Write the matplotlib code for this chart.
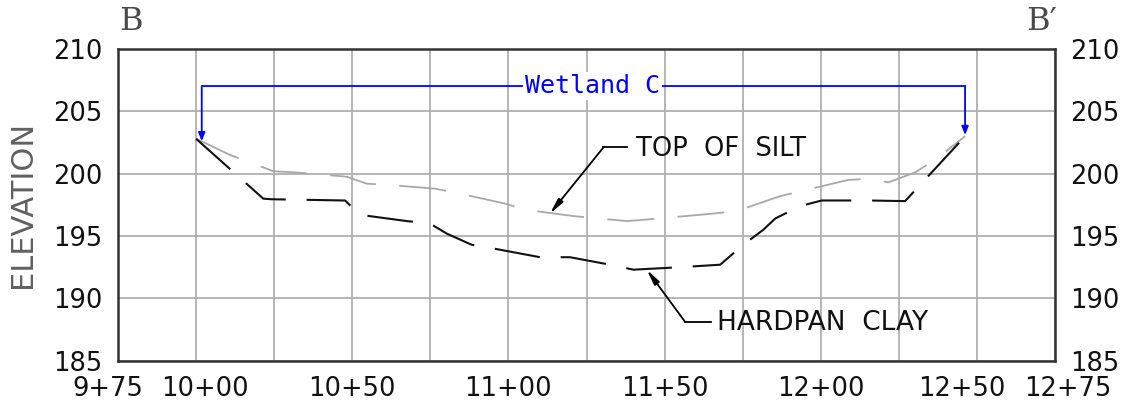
import matplotlib.pyplot as plt
import matplotlib.transforms as mtransforms

hardpan_sta = [1000, 1021.5, 1024, 1047.7, 1052.5, 1067.4, 1074.9, 1080.2, 1088.2, 1095.2, 1110.1,
               1119.7, 1132.5, 1140, 1155, 1167.8, 1175.2, 1181.6, 1185.4, 1193.4, 1200.3,
               1215.2, 1227.0, 1234.4, 1246.2]
hardpan_elev = [202.8, 198.0, 197.95, 197.85, 196.7, 196.2, 196.0, 195.2, 194.3, 194.0, 193.3,
                193.3, 192.7, 192.3, 192.5, 192.7, 194.3, 195.5, 196.4, 197.4, 197.85,
                197.85, 197.8, 199.8, 203.0]

silt_sta = [1000, 1010.9, 1024.7, 1031.7, 1048.2, 1054.6, 1061.5, 1076.5, 1084.5, 1098.9, 1105.8,
            1120.8, 1137.9, 1143.2, 1165.6, 1173.1, 1187.0, 1208.8, 1216.3, 1221.6, 1230.2,
            1237.1, 1246.2]
silt_elev = [202.8, 201.5, 200.2, 200.1, 199.76, 199.2, 199.1, 198.8, 198.4, 197.6, 197.1,
             196.6, 196.2, 196.3, 196.8, 197.0, 198.2, 199.5, 199.6, 199.3, 200.1,
             201.2, 203.0]

wetland_start, wetland_end = 1001.8, 1246.2
wetland_top = 207.0
wetland_ends_elev = [202.6, 203.1]

xtick_pos = [975, 1000, 1050, 1100, 1150, 1200, 1250, 1275]
xtick_lbl = ["9+75", "10+00", "10+50", "11+00", "11+50", "12+00", "12+50", "12+75"]
ytick_pos = [185, 190, 195, 200, 205, 210]

plt.rcParams['font.family'] = ['DejaVu Sans']

fig = plt.figure(figsize=(11.25, 4.01), dpi=100)
ax = fig.add_axes([0.1049, 0.1005, 0.8329, 0.7773])

ax.set_xlim(975, 1275)
ax.set_ylim(185, 210)

# grid every 25 ft / 5 ft
ax.set_xticks(xtick_pos)
ax.set_xticklabels(xtick_lbl)
ax.set_xticks([1025, 1075, 1125, 1175, 1225], minor=True)
ax.set_yticks(ytick_pos)
ax.set_yticks([185], minor=True)
ax.grid(True, which='both', color='#b0b0b0', linewidth=1.3)
ax.set_axisbelow(True)
ax.tick_params(which='major', length=0, labelsize=18.5, colors='#111111')
ax.tick_params(axis='x', pad=11)
ax.tick_params(axis='y', pad=11, labelright=True, right=False)
ax.tick_params(axis='x', which='minor', length=0)
ax.tick_params(axis='y', which='minor', length=11, width=1.2, left=True, right=True, color='#333333')
for sp in ax.spines.values():
    sp.set_color('#333333')
    sp.set_linewidth(1.8)

# nudge the crowded end labels like the drawing does
shifts = {0: -10, 1: 9, 6: -15, 7: 13}
for i, lab in enumerate(ax.get_xticklabels()):
    if i in shifts:
        lab.set_transform(lab.get_transform() + mtransforms.ScaledTranslation(shifts[i] / 100, 0, fig.dpi_scale_trans))

# profiles
ax.plot(silt_sta, silt_elev, color='#a8a8a8', linewidth=1.3, dashes=(26, 13), dash_capstyle='butt')
ax.plot(hardpan_sta, hardpan_elev, color='#111111', linewidth=1.5, dashes=(22, 10), dash_capstyle='butt')

# wetland bracket
ax.plot([wetland_start, wetland_end], [wetland_top, wetland_top], color='#0000ff', linewidth=1.3)
for xs, ye in zip([wetland_start, wetland_end], wetland_ends_elev):
    ax.annotate('', xy=(xs, ye), xytext=(xs, wetland_top),
                arrowprops=dict(arrowstyle='-|>,head_length=0.5,head_width=0.2', color='#0000ff', lw=1.3,
                                shrinkA=0, shrinkB=0))
ax.text((wetland_start + wetland_end) / 2 + 3, wetland_top, "Wetland C", color='#0000ff',
        family='DejaVu Sans Mono', fontsize=18, ha='center', va='center',
        bbox=dict(facecolor='white', edgecolor='none', pad=1.5))

# leaders
ax.annotate('', xy=(1113.3, 196.8), xytext=(1130.4, 202.1),
            arrowprops=dict(arrowstyle='-|>,head_length=0.9,head_width=0.18', color='black', lw=1.3,
                            shrinkA=0, shrinkB=0))
ax.plot([1130.4, 1138], [202.1, 202.1], color='black', linewidth=1.3)
ax.text(1141, 202.0, "TOP  OF  SILT", fontsize=18.5, ha='left', va='center', color='#111111')

ax.annotate('', xy=(1144.3, 192.3), xytext=(1156.6, 188.1),
            arrowprops=dict(arrowstyle='-|>,head_length=0.9,head_width=0.18', color='black', lw=1.3,
                            shrinkA=0, shrinkB=0))
ax.plot([1156.6, 1165], [188.1, 188.1], color='black', linewidth=1.3)
ax.text(1166.7, 188.0, "HARDPAN  CLAY", fontsize=19, ha='left', va='center', color='#111111')

ax.set_ylabel("ELEVATION", fontsize=22, color='#606060', labelpad=12)

fig.text(131 / 1125, 1 - 22 / 401, "B", family='DejaVu Serif', fontsize=23, color='#4a4a4a',
         ha='center', va='center')
fig.text(1042 / 1125, 1 - 22 / 401, "B\u2032", family='DejaVu Serif', fontsize=23, color='#4a4a4a',
         ha='center', va='center')

fig.savefig("out.png", dpi=100)
